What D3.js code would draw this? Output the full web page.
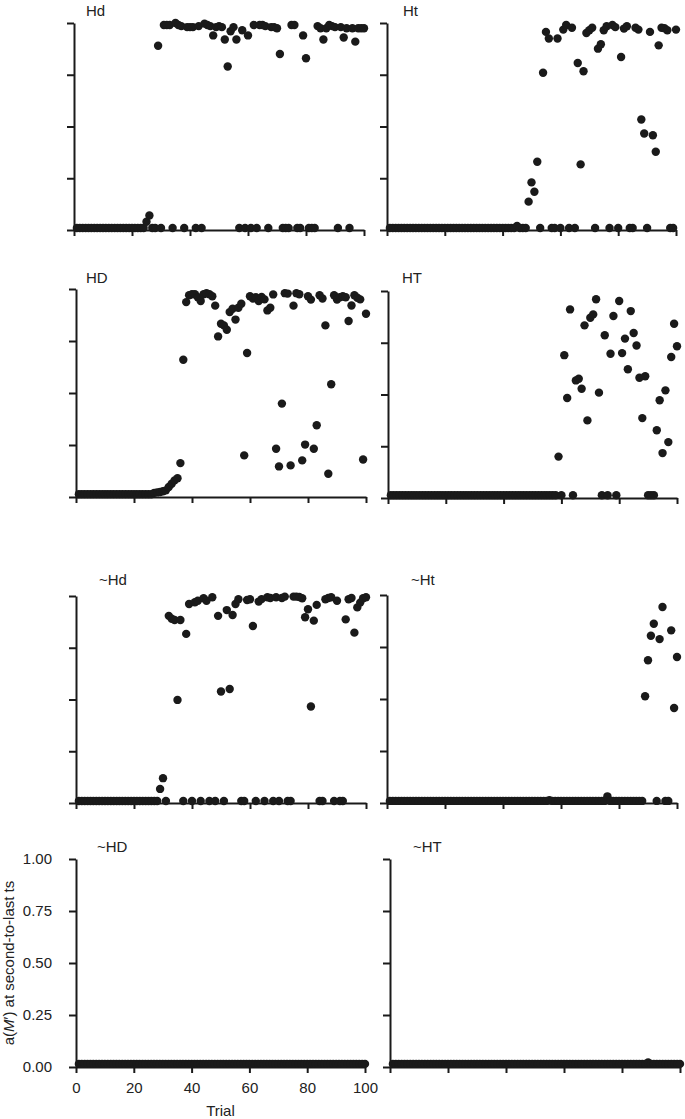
<!DOCTYPE html>
<html>
<head>
<meta charset="utf-8">
<script src="https://cdn.jsdelivr.net/npm/d3@7"></script>
<style>
	body { margin: 0; background: #fff; }
	svg { display: block; }
</style>
</head>
<body>
<div id="chart"></div>
<script>
const WIDTH = 685;
const HEIGHT = 1119;
const INK = '#1a1a1a';
const FONT = '"Liberation Sans", Arial, sans-serif';
const DOT_RADIUS = 4.2;

// panel titles, in reading order
const PANEL_NAMES = ['Hd', 'Ht', 'HD', 'HT', '~Hd', '~Ht', '~HD', '~HT'];
const Y_TICKS = [0, 0.25, 0.5, 0.75, 1];
const X_TICKS = [0, 20, 40, 60, 80, 100];
const X_TITLE = 'Trial';

// a(M') at second-to-last ts, one value per trial (1..100)
const HD_LOWER = [
	0.01, 0.01, 0.01, 0.01, 0.01, 0.01, 0.01, 0.01, 0.01, 0.01,
	0.01, 0.01, 0.01, 0.01, 0.01, 0.01, 0.01, 0.01, 0.01, 0.01,
	0.01, 0.01, 0.01, 0.01, 0.04, 0.07, 0.01, 0.01, 0.89, 0.01,
	0.99, 0.99, 0.99, 0.01, 1.00, 0.99, 0.985, 0.01, 0.98, 0.98,
	0.98, 0.01, 0.985, 0.01, 0.997, 0.99, 0.985, 0.94, 0.98, 0.985,
	0.98, 0.92, 0.79, 0.96, 0.98, 0.92, 0.01, 0.965, 0.01, 0.94,
	0.01, 0.99, 0.01, 0.99, 0.99, 0.985, 0.01, 0.98, 0.98, 0.975,
	0.85, 0.01, 0.01, 0.01, 0.99, 0.99, 0.01, 0.01, 0.94, 0.83,
	0.01, 0.01, 0.01, 0.985, 0.975, 0.92, 0.975, 0.99, 0.985, 0.98,
	0.01, 0.98, 0.93, 0.975, 0.01, 0.975, 0.91, 0.975, 0.975, 0.975
];
const HT_LOWER = [
	0.01, 0.01, 0.01, 0.01, 0.01, 0.01, 0.01, 0.01, 0.01, 0.01,
	0.01, 0.01, 0.01, 0.01, 0.01, 0.01, 0.01, 0.01, 0.01, 0.01,
	0.01, 0.01, 0.01, 0.01, 0.01, 0.01, 0.01, 0.01, 0.01, 0.01,
	0.01, 0.01, 0.01, 0.01, 0.01, 0.01, 0.01, 0.01, 0.01, 0.01,
	0.01, 0.01, 0.01, 0.01, 0.02, 0.01, 0.01, 0.01, 0.137, 0.23,
	0.185, 0.33, 0.01, 0.76, 0.957, 0.925, 0.01, 0.01, 0.925, 0.01,
	0.968, 0.99, 0.01, 0.977, 0.01, 0.807, 0.317, 0.767, 0.952, 0.965,
	0.977, 0.01, 0.876, 0.897, 0.965, 0.984, 0.01, 0.99, 0.98, 0.01,
	0.836, 0.973, 0.984, 0.01, 0.01, 0.977, 0.968, 0.534, 0.466, 0.01,
	0.957, 0.458, 0.378, 0.892, 0.977, 0.975, 0.965, 0.01, 0.01, 0.968
];
const HD_UPPER = [
	0.013, 0.013, 0.013, 0.013, 0.013, 0.013, 0.013, 0.013, 0.013, 0.013,
	0.013, 0.013, 0.013, 0.013, 0.013, 0.013, 0.013, 0.013, 0.013, 0.013,
	0.013, 0.013, 0.013, 0.013, 0.013, 0.013, 0.02, 0.022, 0.024, 0.028,
	0.032, 0.048, 0.064, 0.08, 0.09, 0.163, 0.66, 0.937, 0.97, 0.975,
	0.975, 0.96, 0.942, 0.975, 0.98, 0.975, 0.965, 0.92, 0.772, 0.833,
	0.825, 0.804, 0.889, 0.905, 0.853, 0.91, 0.929, 0.2, 0.692, 0.965,
	0.954, 0.96, 0.942, 0.962, 0.95, 0.897, 0.91, 0.974, 0.232, 0.147,
	0.449, 0.98, 0.978, 0.152, 0.92, 0.98, 0.975, 0.176, 0.252, 0.965,
	0.949, 0.232, 0.345, 0.97, 0.954, 0.825, 0.112, 0.542, 0.97, 0.949,
	0.96, 0.965, 0.96, 0.846, 0.921, 0.97, 0.958, 0.95, 0.18, 0.881
];
const HT_UPPER = [
	0.013, 0.013, 0.013, 0.013, 0.013, 0.013, 0.013, 0.013, 0.013, 0.013,
	0.013, 0.013, 0.013, 0.013, 0.013, 0.013, 0.013, 0.013, 0.013, 0.013,
	0.013, 0.013, 0.013, 0.013, 0.013, 0.013, 0.013, 0.013, 0.013, 0.013,
	0.013, 0.013, 0.013, 0.013, 0.013, 0.013, 0.013, 0.013, 0.013, 0.013,
	0.013, 0.013, 0.013, 0.013, 0.013, 0.013, 0.013, 0.013, 0.013, 0.013,
	0.013, 0.013, 0.013, 0.013, 0.013, 0.013, 0.013, 0.013, 0.2, 0.013,
	0.69, 0.483, 0.911, 0.013, 0.568, 0.576, 0.528, 0.834, 0.375, 0.871,
	0.887, 0.96, 0.509, 0.013, 0.786, 0.013, 0.697, 0.879, 0.013, 0.952,
	0.7, 0.77, 0.622, 0.903, 0.797, 0.737, 0.581, 0.386, 0.588, 0.013,
	0.013, 0.013, 0.327, 0.472, 0.217, 0.52, 0.27, 0.681, 0.842, 0.733
];
const NOT_HD_LOWER = [
	0.01, 0.01, 0.01, 0.01, 0.01, 0.01, 0.01, 0.01, 0.01, 0.01,
	0.01, 0.01, 0.01, 0.01, 0.01, 0.01, 0.01, 0.01, 0.01, 0.01,
	0.01, 0.01, 0.01, 0.01, 0.01, 0.01, 0.01, 0.01, 0.068, 0.12,
	0.01, 0.904, 0.89, 0.884, 0.498, 0.884, 0.01, 0.817, 0.961, 0.01,
	0.97, 0.977, 0.01, 0.989, 0.977, 0.01, 0.994, 0.01, 0.904, 0.539,
	0.01, 0.932, 0.551, 0.908, 0.961, 0.984, 0.01, 0.01, 0.981, 0.984,
	0.855, 0.01, 0.973, 0.985, 0.01, 0.994, 0.99, 0.01, 0.994, 0.01,
	0.99, 0.997, 0.01, 0.01, 0.997, 0.997, 0.995, 0.989, 0.897, 0.936,
	0.466, 0.881, 0.957, 0.01, 0.01, 0.984, 0.99, 0.994, 0.01, 0.977,
	0.01, 0.01, 0.887, 0.984, 0.99, 0.823, 0.945, 0.968, 0.989, 0.994
];
const NOT_HT_LOWER = [
	0.01, 0.01, 0.01, 0.01, 0.01, 0.01, 0.01, 0.01, 0.01, 0.01,
	0.01, 0.01, 0.01, 0.01, 0.01, 0.01, 0.01, 0.01, 0.01, 0.01,
	0.01, 0.01, 0.01, 0.01, 0.01, 0.01, 0.01, 0.01, 0.01, 0.01,
	0.01, 0.01, 0.01, 0.01, 0.01, 0.01, 0.01, 0.01, 0.01, 0.01,
	0.01, 0.01, 0.01, 0.01, 0.01, 0.01, 0.01, 0.01, 0.01, 0.01,
	0.01, 0.01, 0.01, 0.01, 0.01, 0.013, 0.01, 0.01, 0.01, 0.01,
	0.01, 0.01, 0.01, 0.01, 0.01, 0.01, 0.01, 0.01, 0.01, 0.01,
	0.01, 0.01, 0.01, 0.01, 0.01, 0.032, 0.01, 0.01, 0.01, 0.01,
	0.01, 0.01, 0.01, 0.01, 0.01, 0.01, 0.01, 0.01, 0.513, 0.686,
	0.804, 0.862, 0.01, 0.788, 0.942, 0.01, 0.01, 0.83, 0.457, 0.702
];
const NOT_HD_UPPER = [
	0.015, 0.015, 0.015, 0.015, 0.015, 0.015, 0.015, 0.015, 0.015, 0.015,
	0.015, 0.015, 0.015, 0.015, 0.015, 0.015, 0.015, 0.015, 0.015, 0.015,
	0.015, 0.015, 0.015, 0.015, 0.015, 0.015, 0.015, 0.015, 0.015, 0.015,
	0.015, 0.015, 0.015, 0.015, 0.015, 0.015, 0.015, 0.015, 0.015, 0.015,
	0.015, 0.015, 0.015, 0.015, 0.015, 0.015, 0.015, 0.015, 0.015, 0.015,
	0.015, 0.015, 0.015, 0.015, 0.015, 0.015, 0.015, 0.015, 0.015, 0.015,
	0.015, 0.015, 0.015, 0.015, 0.015, 0.015, 0.015, 0.015, 0.015, 0.015,
	0.015, 0.015, 0.015, 0.015, 0.015, 0.015, 0.015, 0.015, 0.015, 0.015,
	0.015, 0.015, 0.015, 0.015, 0.015, 0.015, 0.015, 0.015, 0.015, 0.015,
	0.015, 0.015, 0.015, 0.015, 0.015, 0.015, 0.015, 0.015, 0.015, 0.015
];
const NOT_HT_UPPER = [
	0.015, 0.015, 0.015, 0.015, 0.015, 0.015, 0.015, 0.015, 0.015, 0.015,
	0.015, 0.015, 0.015, 0.015, 0.015, 0.015, 0.015, 0.015, 0.015, 0.015,
	0.015, 0.015, 0.015, 0.015, 0.015, 0.015, 0.015, 0.015, 0.015, 0.015,
	0.015, 0.015, 0.015, 0.015, 0.015, 0.015, 0.015, 0.015, 0.015, 0.015,
	0.015, 0.015, 0.015, 0.015, 0.015, 0.015, 0.015, 0.015, 0.015, 0.015,
	0.015, 0.015, 0.015, 0.015, 0.015, 0.015, 0.015, 0.015, 0.015, 0.015,
	0.015, 0.015, 0.015, 0.015, 0.015, 0.015, 0.015, 0.015, 0.015, 0.015,
	0.015, 0.015, 0.015, 0.015, 0.015, 0.015, 0.015, 0.015, 0.015, 0.015,
	0.015, 0.015, 0.015, 0.015, 0.015, 0.015, 0.015, 0.015, 0.022, 0.015,
	0.015, 0.015, 0.015, 0.015, 0.015, 0.015, 0.015, 0.015, 0.015, 0.015
];
const SERIES = [HD_LOWER, HT_LOWER, HD_UPPER, HT_UPPER, NOT_HD_LOWER, NOT_HT_LOWER, NOT_HD_UPPER, NOT_HT_UPPER];

// where each panel sits on the page (the figure is slightly uneven)
const LAYOUT = [
	{ x0: 74, x1: 364, top: 23, bottom: 230, lx: 86, ly: 16 },
	{ x0: 387, x1: 676, top: 23, bottom: 230, lx: 403, ly: 16 },
	{ x0: 76, x1: 366, top: 289, bottom: 497, lx: 86, ly: 283 },
	{ x0: 388, x1: 677, top: 291, bottom: 498, lx: 402, ly: 283 },
	{ x0: 76, x1: 366, top: 596, bottom: 803, lx: 99, ly: 585 },
	{ x0: 387, x1: 677, top: 595, bottom: 803, lx: 411, ly: 585 },
	{ x0: 76, x1: 365, top: 859, bottom: 1067, lx: 97, ly: 852 },
	{ x0: 390, x1: 680, top: 859, bottom: 1067, lx: 413, ly: 852 }
];
const LABELLED_PANEL = 6;

const svg = d3.select('#chart')
	.append('svg')
	.attr('width', WIDTH)
	.attr('height', HEIGHT)
	.style('font-family', FONT);

PANEL_NAMES.forEach((name, i) => {
	const box = LAYOUT[i];
	const values = SERIES[i];
	const showLabels = i === LABELLED_PANEL;

	const xScale = d3.scaleLinear().domain([0, 100]).range([box.x0, box.x1]);
	const yScale = d3.scaleLinear().domain([0, 1]).range([box.bottom, box.top]);

	const xAxis = d3.axisBottom(xScale)
		.tickValues(X_TICKS)
		.tickSize(6)
		.tickSizeOuter(0)
		.tickPadding(9)
		.tickFormat(showLabels ? d3.format('d') : () => '');
	const yAxis = d3.axisLeft(yScale)
		.tickValues(Y_TICKS)
		.tickSize(7)
		.tickSizeOuter(0)
		.tickPadding(17)
		.tickFormat(showLabels ? d3.format('.2f') : () => '');

	// draw axes
	const gx = svg.append('g')
		.attr('transform', `translate(0, ${box.bottom})`)
		.call(xAxis);
	const gy = svg.append('g')
		.attr('transform', `translate(${box.x0}, 0)`)
		.call(yAxis);
	[gx, gy].forEach(g => {
		g.attr('color', INK);
		g.selectAll('path, line').attr('stroke-width', 2);
		g.selectAll('text')
			.style('font-family', FONT)
			.style('font-size', '15px')
			.attr('fill', '#222');
	});

	// dots, one per trial
	svg.append('g')
		.selectAll('circle')
		.data(values.map((v, k) => ({ trial: k + 1, value: v })))
		.enter()
		.append('circle')
		.attr('cx', d => xScale(d.trial))
		.attr('cy', d => yScale(d.value))
		.attr('r', DOT_RADIUS)
		.attr('fill', INK);

	// panel title
	svg.append('text')
		.attr('x', box.lx)
		.attr('y', box.ly)
		.style('font-size', '15px')
		.attr('fill', '#222')
		.text(name);

	if (showLabels) {
		svg.append('text')
			.attr('x', (box.x0 + box.x1) / 2)
			.attr('y', 1116)
			.style('font-size', '15px')
			.style('text-anchor', 'middle')
			.attr('fill', '#222')
			.text(X_TITLE);

		const yTitle = svg.append('text')
			.attr('transform', `translate(14, ${(box.top + box.bottom) / 2}) rotate(-90)`)
			.style('font-size', '15px')
			.style('text-anchor', 'middle')
			.attr('fill', '#222');
		yTitle.append('tspan').text('a(');
		yTitle.append('tspan').style('font-style', 'italic').text('M');
		yTitle.append('tspan').text('\u2032) at second-to-last ts');
	}
});
</script>
</body>
</html>
